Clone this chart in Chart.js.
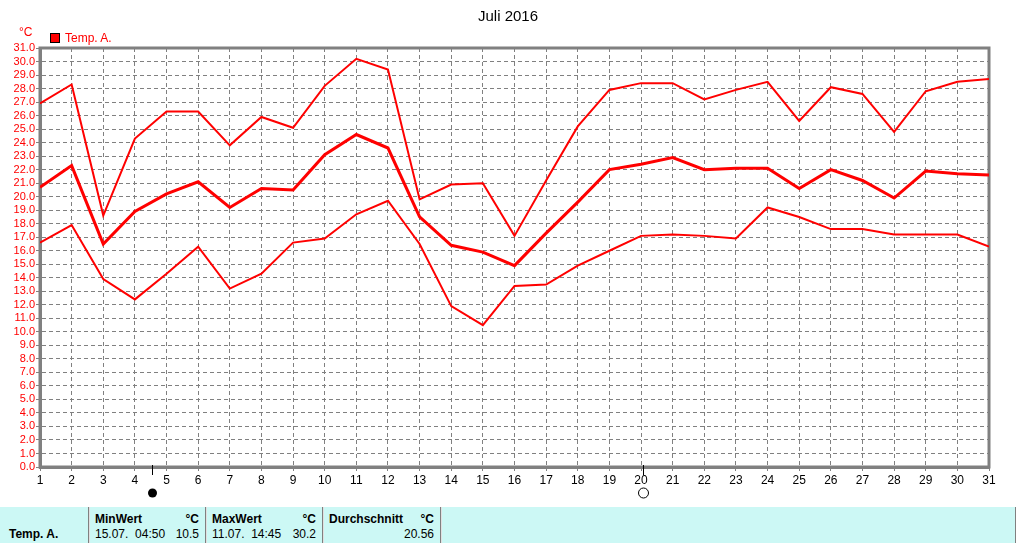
<!DOCTYPE html>
<html>
<head>
<meta charset="utf-8">
<script src="https://cdn.jsdelivr.net/npm/chart.js@4.4.0/dist/chart.umd.min.js"></script>
<style>
    body { margin: 0; background: #fff; font-family: "Liberation Sans", Arial, sans-serif; }
    #wrap { position: relative; width: 1016px; height: 543px; overflow: hidden; }
    #chart { position: absolute; left: 0; top: 0; }
    .txt { position: absolute; white-space: nowrap; line-height: 14px; }
    #title { left: 0; width: 1016px; top: 7px; text-align: center; font-size: 15px; color: #000; line-height: 18px; }
    #unit { left: 19px; top: 25px; font-size: 12px; color: #f00; }
    #legbox { position: absolute; left: 50px; top: 33px; width: 8px; height: 8px; background: #f00; border: 1px solid #000; }
    #legtxt { left: 65px; top: 31px; font-size: 12px; color: #f00; }
    #table { position: absolute; left: 0; top: 507px; width: 1015px; height: 36px; background: #ccf8f5; border-right: 1px solid #808080; font-size: 12px; color: #000; }
    .sep { position: absolute; top: 0; width: 1px; height: 36px; background: #808080; border-right: 1px solid #e0e0e0; }
    .b { font-weight: bold; }
    .r { text-align: right; }
</style>
</head>
<body>
<div id="wrap">
    <canvas id="chart" width="1016" height="505"></canvas>
    <div id="title" class="txt"></div>
    <div id="unit" class="txt">°C</div>
    <div id="legbox"></div>
    <div id="legtxt" class="txt"></div>
    <div id="table"></div>
</div>
<script>
    var title = 'Juli 2016'
    var seriesName = 'Temp. A.'
    var days = [1, 2, 3, 4, 5, 6, 7, 8, 9, 10, 11, 12, 13, 14, 15, 16, 17, 18, 19, 20, 21, 22, 23, 24, 25, 26, 27, 28, 29, 30, 31]
    var tempMax = [26.9, 28.3, 18.6, 24.3, 26.3, 26.3, 23.8, 25.9, 25.1, 28.2, 30.2, 29.4, 19.8, 20.9, 21.0, 17.1, 21.2, 25.2, 27.9, 28.4, 28.4, 27.2, 27.9, 28.5, 25.6, 28.1, 27.6, 24.8, 27.8, 28.5, 28.7]
    var tempMean = [20.7, 22.3, 16.5, 18.9, 20.2, 21.1, 19.2, 20.6, 20.5, 23.1, 24.6, 23.6, 18.5, 16.4, 15.9, 14.9, 17.3, 19.6, 22.0, 22.4, 22.9, 22.0, 22.1, 22.1, 20.6, 22.0, 21.2, 19.9, 21.9, 21.7, 21.6]
    var tempMin = [16.6, 17.9, 13.9, 12.4, 14.3, 16.3, 13.2, 14.3, 16.6, 16.9, 18.7, 19.7, 16.5, 11.9, 10.5, 13.4, 13.5, 14.9, 16.0, 17.1, 17.2, 17.1, 16.9, 19.2, 18.5, 17.6, 17.6, 17.2, 17.2, 17.2, 16.3]
    var moonDays = [4.55, 20.07]
    var moonFull = [false, true]
    var summaryHeads = ['MinWert', 'MaxWert', 'Durchschnitt']
    var summaryWhen = ['15.07.  04:50', '11.07.  14:45', '']
    var summaryValues = ['10.5', '30.2', '20.56']

    document.getElementById('title').textContent = title
    document.getElementById('legtxt').textContent = seriesName

    // summary table below the chart
    var table = document.getElementById('table')
    var html = `<div class="txt b" style="left:9px;top:20px">${seriesName}</div>`
    var colLeft = [88, 205, 322, 440]
    summaryHeads.forEach(function(head, i) {
        var x = colLeft[i]
        var w = colLeft[i + 1] - x
        html += `<div class="sep" style="left:${x}px"></div>`
        html += `<div class="txt b" style="left:${x + 7}px;top:5px">${head}</div>`
        html += `<div class="txt b r" style="left:${x}px;width:${w - 6}px;top:5px">°C</div>`
        html += `<div class="txt" style="left:${x + 7}px;top:20px;white-space:pre">${summaryWhen[i]}</div>`
        html += `<div class="txt r" style="left:${x}px;width:${w - 6}px;top:20px">${summaryValues[i]}</div>`
    })
    html += `<div class="sep" style="left:440px"></div>`
    table.innerHTML = html

    function points(values) {
        return values.map(function(v, i) { return { x: days[i], y: v } })
    }

    var framePlugin = {
        id: 'frame',
        beforeDatasetsDraw(chart) {
            var { ctx, chartArea } = chart
            ctx.save()
            ctx.strokeStyle = '#808080'
            ctx.lineWidth = 3
            ctx.strokeRect(chartArea.left, chartArea.top, chartArea.right - chartArea.left, chartArea.bottom - chartArea.top)
            ctx.restore()
        }
    }

    var moonPlugin = {
        id: 'moon',
        afterDraw(chart) {
            var { ctx, chartArea } = chart
            var xs = chart.scales.x
            ctx.save()
            moonDays.forEach(function(d, i) {
                var x = Math.round(xs.getPixelForValue(d)) + 0.5
                ctx.strokeStyle = '#000'
                ctx.lineWidth = 1
                ctx.beginPath()
                ctx.moveTo(x, chartArea.bottom - 2)
                ctx.lineTo(x, chartArea.bottom + 8)
                ctx.stroke()
                ctx.beginPath()
                ctx.arc(x, 493, moonFull[i] ? 5 : 4.5, 0, Math.PI * 2)
                if (moonFull[i]) {
                    ctx.stroke()
                } else {
                    ctx.fillStyle = '#000'
                    ctx.fill()
                }
            })
            ctx.restore()
        }
    }

    var lineStyle = { borderColor: '#ff0000', backgroundColor: '#ff0000', pointRadius: 0, tension: 0, fill: false }

    new Chart(document.getElementById('chart'), {
        type: 'line',
        data: {
            datasets: [
                Object.assign({ label: seriesName, data: points(tempMax), borderWidth: 2 }, lineStyle),
                Object.assign({ label: seriesName, data: points(tempMean), borderWidth: 3 }, lineStyle),
                Object.assign({ label: seriesName, data: points(tempMin), borderWidth: 2 }, lineStyle)
            ]
        },
        options: {
            responsive: false,
            animation: false,
            layout: { padding: { left: 0, right: 27, top: 48, bottom: 0 } },
            plugins: { legend: { display: false }, title: { display: false }, tooltip: { enabled: false } },
            scales: {
                x: {
                    type: 'linear',
                    min: 1,
                    max: 31,
                    afterFit(scale) { scale.height = 38 },
                    ticks: { stepSize: 1, color: '#000', padding: 2, font: { family: 'Liberation Sans', size: 12 }, maxRotation: 0, autoSkip: false },
                    grid: { color: '#808080', lineWidth: 1, tickLength: 4 },
                    border: { dash: [4, 3], color: '#808080', width: 3 }
                },
                y: {
                    min: 0,
                    max: 31,
                    afterFit(scale) { scale.width = 40 },
                    ticks: {
                        stepSize: 1,
                        color: '#ff0000',
                        padding: 1,
                        font: { family: 'Liberation Sans', size: 11 },
                        autoSkip: false,
                        callback(v) { return v.toFixed(1) }
                    },
                    grid: { color: '#808080', lineWidth: 1, tickLength: 4 },
                    border: { dash: [4, 3], color: '#808080', width: 3 }
                }
            }
        },
        plugins: [framePlugin, moonPlugin]
    })
</script>
</body>
</html>
